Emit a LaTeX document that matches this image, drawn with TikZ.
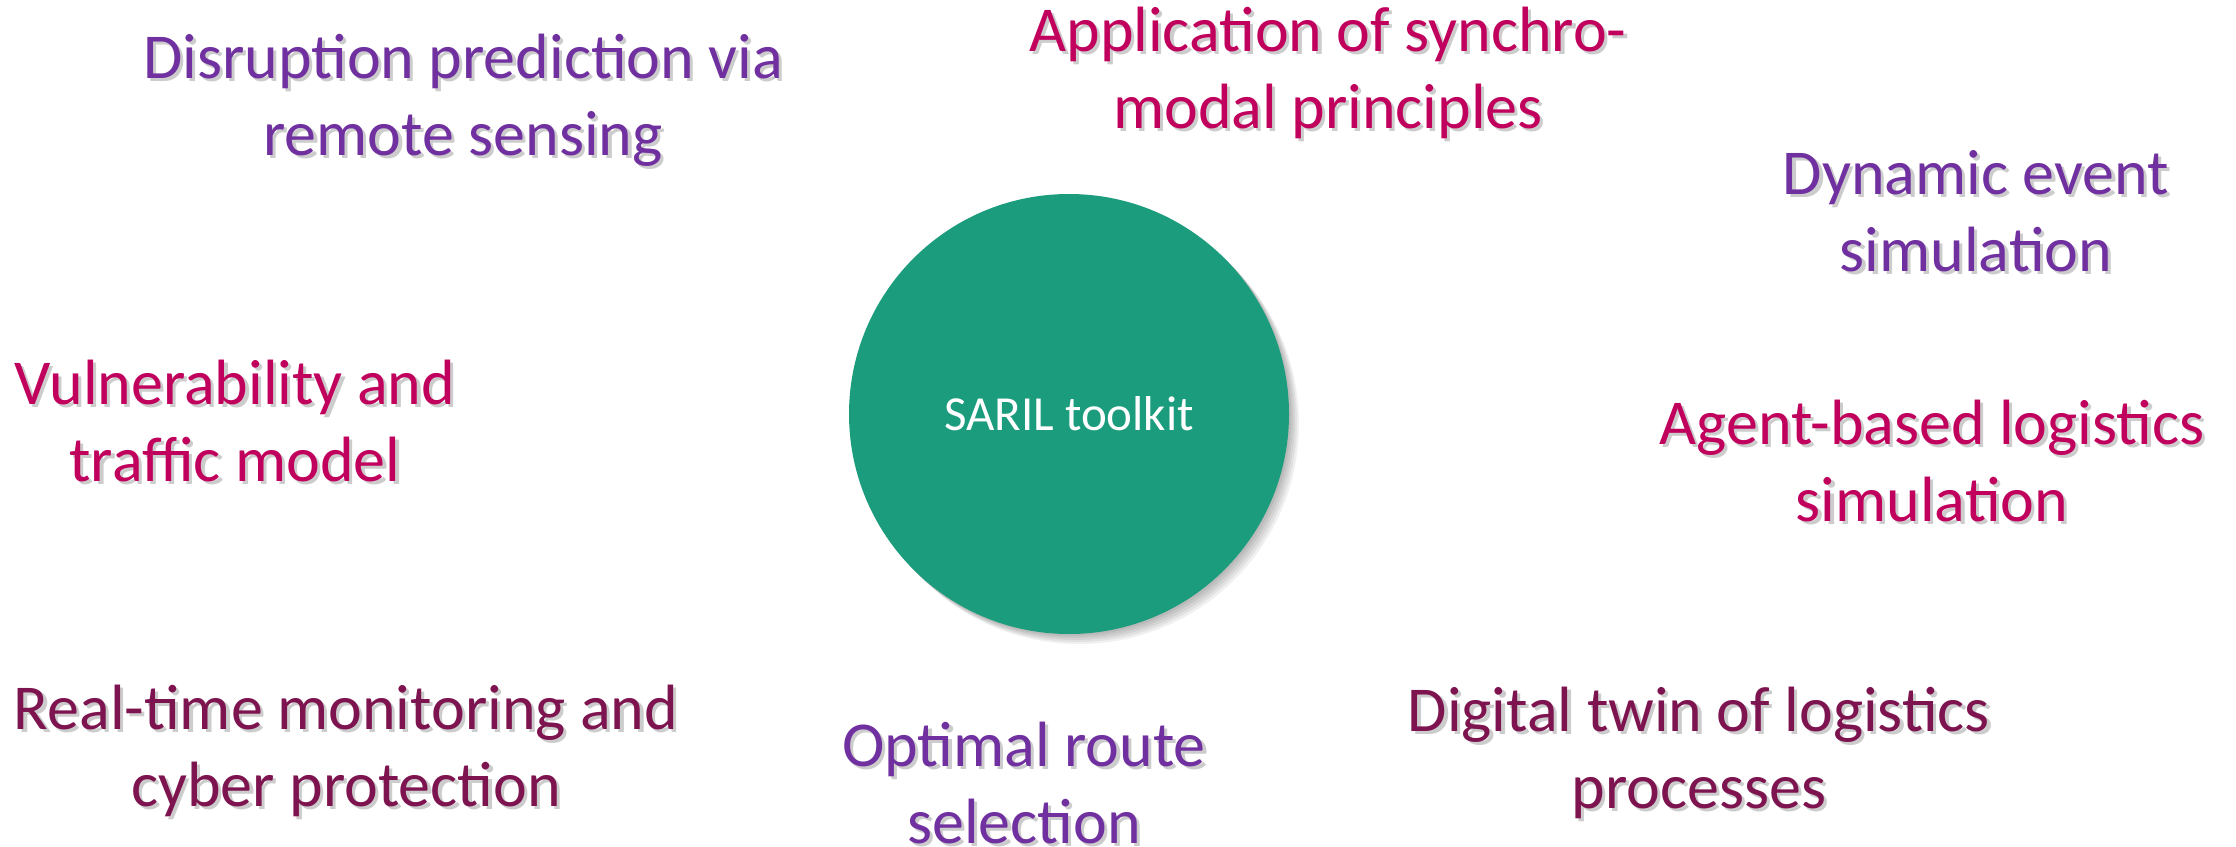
\documentclass[tikz,border=0pt]{standalone}
\usepackage{fontspec}
\setmainfont{Carlito}
\definecolor{cpurple}{HTML}{7030A0}
\definecolor{cmagenta}{HTML}{C0005C}
\definecolor{cmaroon}{HTML}{7D1450}
\definecolor{cgreen}{HTML}{1A9C7D}
\tikzset{
  lbltext/.style={inner sep=0pt, align=center, anchor=base, font=\fontsize{32}{38.5}\selectfont},
  shadowtext/.style={lbltext, text=black, text opacity=0.2, xshift=1.6pt, yshift=-1.8pt},
  hub/.style={circle, fill=cgreen, minimum size=220pt, inner sep=0pt, text=white, font=\fontsize{24.5}{29}\selectfont},
  hubshadow/.style={circle, fill=black, minimum size=220pt, inner sep=0pt, opacity=0.06},
}
\newcommand{\lbl}[5]{%
  \node[shadowtext] at (#2,#3) {#5};
  \node[lbltext, text=#4] (#1) at (#2,#3) {#5};
}
\begin{document}
\begin{tikzpicture}[x=0.5pt, y=-0.5pt]
\useasboundingbox[fill=white] (0,0) rectangle (2236,846);
% circle shadow
\foreach \d in {2,4,6,8,10} {
  \node[hubshadow] at (1069+\d,414+\d) {};
}
\node[hub] (saril) at (1069,414) {SARIL toolkit};
\lbl{disr}{463}{155}{cpurple}{Disruption prediction via\\remote sensing}
\lbl{appl}{1328}{128}{cmagenta}{Application of synchro-\\modal principles}
\lbl{dyn}{1976}{271}{cpurple}{Dynamic event\\simulation}
\lbl{agent}{1932}{521}{cmagenta}{Agent-based logistics\\simulation}
\lbl{vuln}{235}{481}{cmagenta}{Vulnerability and\\traffic model}
\lbl{real}{346}{806}{cmaroon}{Real-time monitoring and\\cyber protection}
\lbl{opt}{1024}{843}{cpurple}{Optimal route\\selection}
\lbl{dig}{1699}{808}{cmaroon}{Digital twin of logistics\\processes}
\end{tikzpicture}
\end{document}
